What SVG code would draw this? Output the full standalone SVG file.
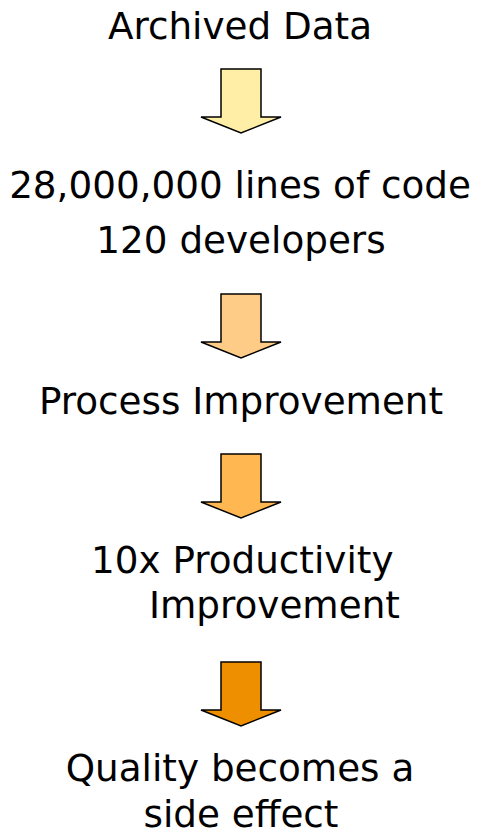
<svg xmlns="http://www.w3.org/2000/svg" width="477" height="836" viewBox="0 0 477 836">
<style>
  text { font-family: "DejaVu Sans", Verdana, sans-serif; font-size: 37.3px; fill: #000; }
  .c { text-anchor: middle; }
  .arrow { stroke: #000; stroke-width: 1.5; stroke-linejoin: miter; }
</style>
<defs>
  <path id="arr" d="M -20 0 L 20 0 L 20 48 L 40 48 L 0 64 L -40 48 L -20 48 Z"/>
</defs>
<rect width="477" height="836" fill="#fff"/>
<g id="n1"><text class="c" x="240" y="38.5">Archived Data</text></g>
<g id="n2"><text class="c" x="240" y="198">28,000,000 lines of code</text><text class="c" x="241" y="253">120 developers</text></g>
<g id="n3"><text class="c" x="241" y="413.5">Process Improvement</text></g>
<g id="n4"><text x="91" y="573">10x Productivity</text><text x="149" y="618">Improvement</text></g>
<g id="n5"><text class="c" x="240" y="781">Quality becomes a</text><text class="c" x="241" y="827">side effect</text></g>
<g id="connectors">
  <use href="#arr" class="arrow" transform="translate(241,69)" fill="#FFEEA6"/>
  <use href="#arr" class="arrow" transform="translate(241,294)" fill="#FFCC88"/>
  <use href="#arr" class="arrow" transform="translate(241,454)" fill="#FFB851"/>
  <use href="#arr" class="arrow" transform="translate(241,662)" fill="#EE8F00"/>
</g>
</svg>
